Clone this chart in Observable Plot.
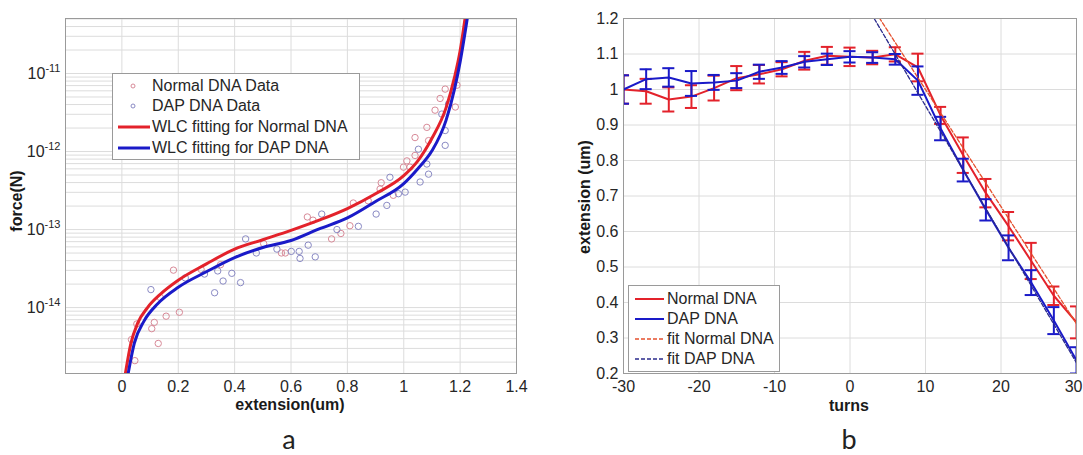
<!DOCTYPE html>
<html>
<head>
<meta charset="utf-8">
<script src="https://cdn.jsdelivr.net/npm/d3@7"></script>
<script src="https://cdn.jsdelivr.net/npm/@observablehq/plot@0.6"></script>
<style>
  html, body { margin: 0; padding: 0; background: #fff; }
  #wrap { position: relative; width: 1083px; height: 455px; overflow: hidden; background: #fff;
          font-family: "Liberation Sans", Arial, sans-serif; color: #262626; }
  .abs { position: absolute; white-space: nowrap; }
  .bold { font-weight: bold; font-size: 16px; color: #1a1a1a; }
  .legend { position: absolute; background: #fff; border: 1px solid #9a9a9a; box-sizing: border-box; }
  .legend .row { position: absolute; left: 0; height: 20px; display: flex; align-items: center; font-size: 16px; color: #262626; }
  .panel { font-family: "Lato", "Open Sans", sans-serif; font-size: 27px; color: #222; }
</style>
</head>
<body>
<div id="wrap">
  <div id="pa" class="abs" style="left:0;top:0"></div>
  <div id="pb" class="abs" style="left:541px;top:0"></div>
</div>
<script>
// ---------- Panel a data ----------
const aXTicks = [0, 0.2, 0.4, 0.6, 0.8, 1, 1.2, 1.4];
const aYTicks = [1e-14, 1e-13, 1e-12, 1e-11];

const normalFitExt = [0.012, 0.032, 0.056, 0.091, 0.139, 0.2, 0.3, 0.4, 0.5, 0.6, 0.7, 0.8, 0.9, 1.0, 1.05, 1.1, 1.15, 1.18, 1.2, 1.218];
const normalFitForce = [1.4e-15, 3.47e-15, 6.31e-15, 1.0e-14, 1.51e-14, 2.24e-14, 3.63e-14, 5.62e-14, 7.41e-14, 9.77e-14, 1.32e-13, 1.86e-13, 2.88e-13, 4.9e-13, 7.59e-13, 1.48e-12, 3.63e-12, 8.91e-12, 1.95e-11, 5.25e-11];

const dapFitExt = [0.022, 0.044, 0.079, 0.127, 0.2, 0.3, 0.4, 0.5, 0.6, 0.7, 0.8, 0.9, 1.0, 1.05, 1.1, 1.15, 1.18, 1.2, 1.226];
const dapFitForce = [1.41e-15, 3.47e-15, 6.76e-15, 1.12e-14, 1.82e-14, 2.88e-14, 4.37e-14, 5.89e-14, 7.24e-14, 1.02e-13, 1.41e-13, 2.29e-13, 3.89e-13, 6.03e-13, 1.02e-12, 2.51e-12, 6.31e-12, 1.41e-11, 5.25e-11];

const normalDataExt = [0.183, 0.281, 0.204, 0.157, 0.115, 0.106, 0.053, 0.034, 0.046, 0.129, 0.136, 0.503, 0.566, 0.58, 0.658, 0.678, 0.777, 0.744, 0.821, 0.809, 0.874, 0.916, 0.963, 0.999, 1.011, 1.022, 1.04, 1.04, 1.088, 1.082, 1.111, 1.129, 1.147, 1.183, 1.189, 0.35, 0.92];
const normalDataForce = [3.02e-14, 3.09e-14, 8.71e-15, 7.76e-15, 6.46e-15, 5.37e-15, 6.17e-15, 3.89e-15, 2.09e-15, 3.47e-15, 1.35e-14, 6.61e-14, 5.01e-14, 5.01e-14, 1.45e-13, 1.32e-13, 8.91e-14, 7.59e-14, 2.19e-13, 1.12e-13, 2.34e-13, 3.31e-13, 2.75e-13, 6.31e-13, 7.59e-13, 6.31e-13, 8.91e-13, 1.51e-12, 1.38e-12, 2.04e-12, 3.39e-12, 4.79e-12, 6.31e-12, 3.72e-12, 7.08e-12, 3.55e-14, 3.98e-13];

const dapDataExt = [0.103, 0.329, 0.359, 0.39, 0.421, 0.439, 0.34, 0.225, 0.293, 0.477, 0.601, 0.629, 0.632, 0.661, 0.686, 0.709, 0.763, 0.839, 0.902, 0.94, 0.951, 0.981, 1.005, 1.058, 1.088, 1.082, 1.052, 1.147, 1.147, 1.159, 1.135, 0.55];
const dapDataForce = [1.7e-14, 1.55e-14, 2.19e-14, 2.75e-14, 2.09e-14, 7.59e-14, 2.95e-14, 2.4e-14, 2.69e-14, 5.01e-14, 5.25e-14, 5.25e-14, 4.27e-14, 6.31e-14, 4.47e-14, 1.58e-13, 1.0e-13, 1.1e-13, 1.58e-13, 2.04e-13, 4.68e-13, 2.88e-13, 3.02e-13, 4.07e-13, 5.13e-13, 6.92e-13, 1.07e-12, 1.86e-12, 1.2e-12, 4.07e-12, 3.02e-12, 5.62e-14];

// ---------- Panel b data ----------
const bXTicks = [-30, -20, -10, 0, 10, 20, 30];
const bYTicks = [0.2, 0.3, 0.4, 0.5, 0.6, 0.7, 0.8, 0.9, 1, 1.1, 1.2];
const turns = [-30, -27, -24, -21, -18, -15, -12, -9, -6, -3, 0, 3, 6, 9, 12, 15, 18, 21, 24, 27, 30];
const normalExt = [1.0, 0.995, 0.972, 0.98, 1.004, 1.032, 1.043, 1.057, 1.081, 1.095, 1.092, 1.09, 1.099, 1.062, 0.927, 0.815, 0.708, 0.615, 0.517, 0.419, 0.344];
const normalErr = [0.04, 0.035, 0.034, 0.032, 0.035, 0.034, 0.026, 0.02, 0.025, 0.025, 0.026, 0.019, 0.02, 0.039, 0.024, 0.05, 0.04, 0.04, 0.051, 0.026, 0.045];
const dapExt = [1.0, 1.029, 1.034, 1.017, 1.02, 1.025, 1.05, 1.062, 1.078, 1.085, 1.092, 1.09, 1.085, 1.025, 0.89, 0.773, 0.661, 0.554, 0.456, 0.349, 0.237];
const dapErr = [0.04, 0.028, 0.026, 0.035, 0.021, 0.021, 0.02, 0.018, 0.016, 0.016, 0.016, 0.015, 0.015, 0.04, 0.033, 0.032, 0.03, 0.035, 0.035, 0.038, 0.037];
const fitTurns = [0, 30];
const fitNormalExt = [1.33, 0.34];
const fitDapExt = [1.316, 0.23];

// ---------- colours ----------
const RED = "#e3222b", BLUE = "#1a1ac8";
const RED_PT = "#d88a98", BLUE_PT = "#8a8ac4";
const RED_FIT = "#e5502e", BLUE_FIT = "#2b2b8c";
const GRID = "#dcdcdc";

const zip = (xs, ys) => xs.map((x, i) => ({x, y: ys[i]}));

// minor log grid lines (axis structure)
const minorGrid = [];
for (let p = -16; p <= -10; p++) for (let k = 1; k <= 9; k++) minorGrid.push(k * Math.pow(10, p));

const style = {fontFamily: "'Liberation Sans', Arial, sans-serif", fontSize: "16px", color: "#262626", background: "transparent", overflow: "visible"};

// ---------- Panel a ----------
const plotA = Plot.plot({
  width: 541, height: 420,
  marginLeft: 65, marginRight: 25, marginTop: 18, marginBottom: 47,
  style,
  x: {domain: [-0.2, 1.4], ticks: aXTicks, tickFormat: d => String(d), tickSize: 0, tickPadding: 7, label: null},
  y: {type: "log", domain: [1.43e-15, 5.07e-11], ticks: aYTicks, tickFormat: d => "10^" + Math.round(Math.log10(d)), tickSize: 0, tickPadding: 5, label: null},
  marks: [
    Plot.ruleY(minorGrid.filter(v => v > 1.43e-15 && v < 5.07e-11), {stroke: GRID, strokeWidth: 1}),
    Plot.ruleX(aXTicks, {stroke: GRID, strokeWidth: 1}),
    Plot.dot(zip(normalDataExt, normalDataForce), {x: "x", y: "y", r: 3.2, stroke: RED_PT, strokeWidth: 1, clip: true}),
    Plot.dot(zip(dapDataExt, dapDataForce), {x: "x", y: "y", r: 3.2, stroke: BLUE_PT, strokeWidth: 1, clip: true}),
    Plot.line(zip(normalFitExt, normalFitForce), {x: "x", y: "y", stroke: RED, strokeWidth: 3, curve: "monotone-x", clip: true}),
    Plot.line(zip(dapFitExt, dapFitForce), {x: "x", y: "y", stroke: BLUE, strokeWidth: 3, curve: "monotone-x", clip: true}),
    Plot.frame({stroke: "#9a9a9a"})
  ]
});
// superscript exponents
plotA.querySelectorAll('g[aria-label="y-axis tick label"] text').forEach(t => {
  const s = t.textContent;
  if (s.startsWith("10^")) {
    t.textContent = "10";
    const ts = document.createElementNS("http://www.w3.org/2000/svg", "tspan");
    ts.setAttribute("dy", "-0.6em");
    ts.setAttribute("font-size", "11px");
    ts.textContent = s.slice(3);
    t.appendChild(ts);
  }
});
document.getElementById("pa").appendChild(plotA);

// ---------- Panel b ----------
const rowsN = turns.map((t, i) => ({t, v: normalExt[i], e: normalErr[i]}));
const rowsD = turns.map((t, i) => ({t, v: dapExt[i], e: dapErr[i]}));
const capW = 0.8;
const errMarks = (rows, color) => [
  Plot.ruleX(rows, {x: "t", y1: d => d.v - d.e, y2: d => d.v + d.e, stroke: color, strokeWidth: 2, clip: true}),
  Plot.ruleY(rows, {y: d => d.v + d.e, x1: d => d.t - capW, x2: d => d.t + capW, stroke: color, strokeWidth: 2, clip: true}),
  Plot.ruleY(rows, {y: d => d.v - d.e, x1: d => d.t - capW, x2: d => d.t + capW, stroke: color, strokeWidth: 2, clip: true})
];
const plotB = Plot.plot({
  width: 542, height: 420,
  marginLeft: 82, marginRight: 7, marginTop: 18, marginBottom: 47,
  style,
  x: {domain: [-30, 30], ticks: bXTicks, tickFormat: d => String(d), tickSize: 0, tickPadding: 7, label: null},
  y: {domain: [0.2, 1.2], ticks: bYTicks, tickFormat: d => String(d), tickSize: 0, tickPadding: 5, label: null},
  marks: [
    Plot.ruleY(bYTicks, {stroke: GRID, strokeWidth: 1}),
    Plot.ruleX(bXTicks, {stroke: GRID, strokeWidth: 1}),
    Plot.line(rowsN, {x: "t", y: "v", stroke: RED, strokeWidth: 2, clip: true}),
    ...errMarks(rowsN, RED),
    Plot.line(rowsD, {x: "t", y: "v", stroke: BLUE, strokeWidth: 2, clip: true}),
    ...errMarks(rowsD, BLUE),
    Plot.line(zip(fitTurns, fitNormalExt), {x: "x", y: "y", stroke: RED_FIT, strokeWidth: 1.3, strokeDasharray: "4,2", clip: true}),
    Plot.line(zip(fitTurns, fitDapExt), {x: "x", y: "y", stroke: BLUE_FIT, strokeWidth: 1.3, strokeDasharray: "4,2", clip: true}),
    Plot.frame({stroke: "#9a9a9a"})
  ]
});
// keep the last x tick label ("30") inside the page
{
  const xl = plotB.querySelectorAll('g[aria-label="x-axis tick label"] text');
  const last = xl[xl.length - 1];
  if (last) { last.setAttribute("text-anchor", "end"); last.setAttribute("dx", "6"); }
}
document.getElementById("pb").appendChild(plotB);

// ---------- text labels & legends ----------
const wrap = document.getElementById("wrap");
function label(txt, x, y, cls, rot) {
  const d = document.createElement("div");
  d.className = "abs " + cls;
  d.textContent = txt;
  d.style.left = x + "px"; d.style.top = y + "px";
  d.style.transform = "translate(-50%,-50%)" + (rot ? " rotate(-90deg)" : "");
  wrap.appendChild(d);
}
label("force(N)", 17, 201, "bold", true);
label("extension(um)", 290, 405, "bold");
label("extension (um)", 585, 197, "bold", true);
label("turns", 849, 406, "bold");
label("a", 289, 438, "panel");
label("b", 849, 438, "panel");

function legend(x, y, w, h, entries) {
  const box = document.createElement("div");
  box.className = "legend";
  Object.assign(box.style, {left: x + "px", top: y + "px", width: w + "px", height: h + "px"});
  entries.forEach(e => {
    const r = document.createElement("div");
    r.className = "row";
    r.style.top = (e.cy - y - 1 - 10) + "px";
    const ns = "http://www.w3.org/2000/svg";
    const s = document.createElementNS(ns, "svg");
    s.setAttribute("width", e.sw); s.setAttribute("height", 20);
    s.style.marginLeft = e.sx + "px";
    if (e.dot) {
      const c = document.createElementNS(ns, "circle");
      c.setAttribute("cx", e.sw / 2); c.setAttribute("cy", 10); c.setAttribute("r", 2);
      c.setAttribute("fill", "none"); c.setAttribute("stroke", e.color); c.setAttribute("stroke-width", 1);
      s.appendChild(c);
    } else {
      const l = document.createElementNS(ns, "line");
      l.setAttribute("x1", 0); l.setAttribute("x2", e.sw); l.setAttribute("y1", 10); l.setAttribute("y2", 10);
      l.setAttribute("stroke", e.color); l.setAttribute("stroke-width", e.width);
      if (e.dash) l.setAttribute("stroke-dasharray", e.dash);
      s.appendChild(l);
    }
    r.appendChild(s);
    const t = document.createElement("span");
    t.textContent = e.text;
    t.style.marginLeft = e.gap + "px";
    r.appendChild(t);
    box.appendChild(r);
  });
  wrap.appendChild(box);
}
legend(112, 73, 248, 87, [
  {text: "Normal DNA Data", cy: 86, dot: true, color: RED_PT, sx: 14, sw: 12, gap: 13},
  {text: "DAP DNA Data", cy: 106, dot: true, color: BLUE_PT, sx: 14, sw: 12, gap: 13},
  {text: "WLC fitting for Normal DNA", cy: 127, color: RED, width: 3, sx: 5, sw: 32, gap: 2},
  {text: "WLC fitting for DAP DNA", cy: 148, color: BLUE, width: 3, sx: 5, sw: 32, gap: 2}
]);
legend(628, 285, 152, 87, [
  {text: "Normal DNA", cy: 299, color: RED, width: 2, sx: 6, sw: 29, gap: 3},
  {text: "DAP DNA", cy: 319, color: BLUE, width: 2, sx: 6, sw: 29, gap: 3},
  {text: "fit Normal DNA", cy: 339, color: RED_FIT, width: 1.3, dash: "4,2", sx: 6, sw: 29, gap: 3},
  {text: "fit DAP DNA", cy: 359, color: BLUE_FIT, width: 1.3, dash: "4,2", sx: 6, sw: 29, gap: 3}
]);
</script>
</body>
</html>
